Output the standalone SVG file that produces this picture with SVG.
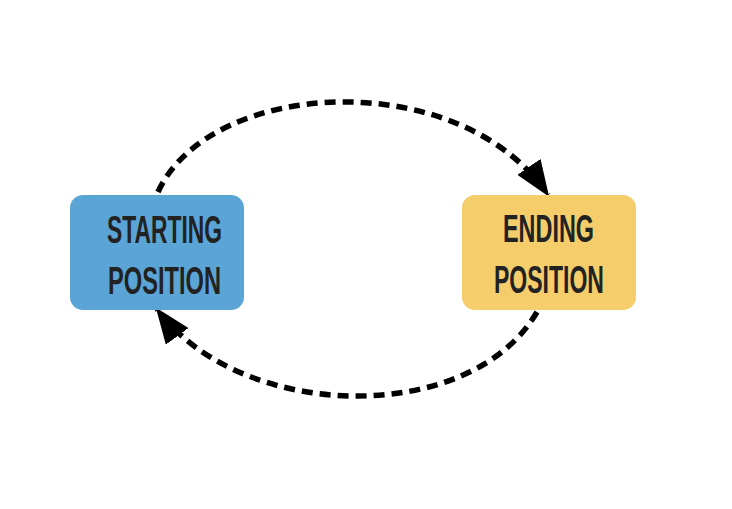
<svg xmlns="http://www.w3.org/2000/svg" width="732" height="509" viewBox="0 0 732 509">
<style>
.box{stroke:none}
.lbl{font-family:"Liberation Sans","DejaVu Sans",sans-serif;font-weight:bold;font-size:38px;fill:#222222;text-anchor:middle}
.conn{fill:none;stroke:#000;stroke-width:5.5;stroke-dasharray:11 7}
</style>
<defs>
<marker id="ah" viewBox="0 0 36 28" refX="34" refY="14" markerWidth="36" markerHeight="28" markerUnits="userSpaceOnUse" orient="auto">
<path d="M0,0 L36,14 L0,28 z" fill="#000"/>
</marker>
</defs>
<rect width="732" height="509" fill="#ffffff"/>
<g id="connectors">
<path class="conn" d="M158,192 C210,78 460,65 548,195" marker-end="url(#ah)"/>
<path class="conn" d="M537,312 C470,427 240,422 157,309" marker-end="url(#ah)"/>
</g>
<g id="start">
<rect class="box" x="70" y="195" width="174" height="115" rx="13" fill="#5aa5d6"/>
<text class="lbl" x="164.5" y="243" textLength="115" lengthAdjust="spacingAndGlyphs">STARTING</text>
<text class="lbl" x="164.5" y="294" textLength="113" lengthAdjust="spacingAndGlyphs">POSITION</text>
</g>
<g id="end">
<rect class="box" x="462" y="195" width="174" height="115" rx="13" fill="#f5cd6a"/>
<text class="lbl" x="548.5" y="242" textLength="91" lengthAdjust="spacingAndGlyphs">ENDING</text>
<text class="lbl" x="549" y="293" textLength="110" lengthAdjust="spacingAndGlyphs">POSITION</text>
</g>
</svg>
